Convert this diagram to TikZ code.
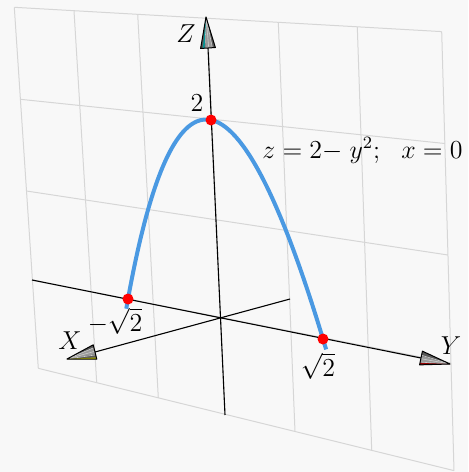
\documentclass[tikz,border=0pt]{standalone}
\usepackage{amsmath}
\usetikzlibrary{calc}

\definecolor{bgcol}{RGB}{248,248,248}
\definecolor{gridcol}{RGB}{214,214,214}
\definecolor{curvecol}{RGB}{74,153,226}
\definecolor{zstripe}{RGB}{0,150,150}
\definecolor{xstripe}{RGB}{190,190,0}
\definecolor{ystripe}{RGB}{150,0,0}

\tikzset{
  gridline/.style={gridcol,line width=0.5pt},
  axisline/.style={black,line width=0.55pt},
  lbl/.style={font=\large,inner sep=0pt},
}

% label text, a little larger than \large
\newcommand{\lbltxt}[1]{\scalebox{1.08}{#1}}

% cone arrow head: tip, base centre, half width, stripe colour, stripe position
\newcommand{\axiscone}[5]{%
  \coordinate (cL) at ($(#2)!#3!90:(#1)$);
  \coordinate (cR) at ($(#2)!#3!-90:(#1)$);
  \fill[black!65] (#1) -- (cL) -- (cR) -- cycle;
  \fill[black!40] (#1) -- ($(cL)!0.35!(cR)$) -- ($(cL)!0.8!(cR)$) -- cycle;
  \foreach \t in {0.3,0.55,0.8}
    \draw[black!20,line width=0.3pt] (#1) -- ($(cL)!\t!(cR)$);
  \fill[#4] (#1) -- ($(cL)!#5!(cR)$) -- ($(cL)!{#5+0.12}!(cR)$) -- cycle;
  \draw[line width=0.5pt,line join=round] (#1) -- (cL) -- (cR) -- cycle;
}

\begin{document}
\begin{tikzpicture}[x=0.5pt,y=-0.5pt]
  \useasboundingbox (0,0) rectangle (468,472);
  \fill[bgcol] (0,0) rectangle (468,472);

  % ================= plane x=0 with grid =================
  \foreach \xa/\ya/\xb/\yb in {14.3/7.3/38.3/368.3, 74/10.7/96.7/382.7,
      137.7/14.3/158.3/397.8, 207.3/18.3/225/414.2, 278.3/22.3/295/431.5,
      357.3/26.8/371.7/450.4, 441.7/31.6/454/470.6} {
    \draw[gridline] (\xa,\ya) -- (\xb,\yb);
  }
  \foreach \xa/\ya/\xb/\yb in {14.3/7.3/441.7/31.6, 20.4/99.3/444.8/143.5,
      26.5/191/447.9/255, 32.4/280/451/363, 38.3/368.3/454/470.6} {
    \draw[gridline] (\xa,\ya) -- (\xb,\yb);
  }

  % ================= axes =================
  \coordinate (O) at (220.5,318);
  \coordinate (Zneg) at (225,415);
  \coordinate (Zbase) at (208,48);
  \coordinate (Ztip) at (206,17);
  \coordinate (Yneg) at (32,280);
  \coordinate (Ybase) at (421,358);
  \coordinate (Ytip) at (450,364);
  \coordinate (Xneg) at (290,299);
  \coordinate (Xbase) at (95,352);
  \coordinate (Xtip) at (67,359);

  \draw[axisline] (Zneg) -- (Zbase);
  \draw[axisline] (Yneg) -- (Ybase);
  \draw[axisline] (Xneg) -- (Xbase);

  % ================= curve z=2-y^2 =================
  \draw[curvecol,line width=2pt,domain=-1.45:1.45,samples=80,smooth]
    plot ({225.5+68.94*(\x)-7.25*(2-(\x)^2)},{319+14.14*(\x)-99.5*(2-(\x)^2)});

  \coordinate (ptop) at (211,120);
  \coordinate (pminus) at (128,299);
  \coordinate (pplus) at (323,339);
  \foreach \p in {ptop,pminus,pplus} {
    \fill[red] (\p) circle (2.75pt);
  }

  % ================= cone heads =================
  \axiscone{Ztip}{Zbase}{3.7pt}{zstripe}{0.15}
  \axiscone{Xtip}{Xbase}{3.7pt}{xstripe}{0}
  \axiscone{Ytip}{Ybase}{3.5pt}{ystripe}{0.86}

  % ================= labels =================
  \node[lbl] (lz) at (186,34) {\lbltxt{$Z$}};
  \node[lbl] (lx) at (70,341) {\lbltxt{$X$}};
  \node[lbl] (ly) at (451,346) {\lbltxt{$Y$}};
  \node[lbl] (ltop) at (197,103) {\lbltxt{$2$}};
  \node[lbl] (lym) at (115,321) {\lbltxt{$-\sqrt{2}$}};
  \node[lbl] (lyp) at (318,366) {\lbltxt{$\sqrt{2}$}};
  \node[lbl,anchor=base west] (leq) at (262,158)
    {\lbltxt{$z=2{-}\;y^2;\ \ x=0$}};

\end{tikzpicture}
\end{document}
